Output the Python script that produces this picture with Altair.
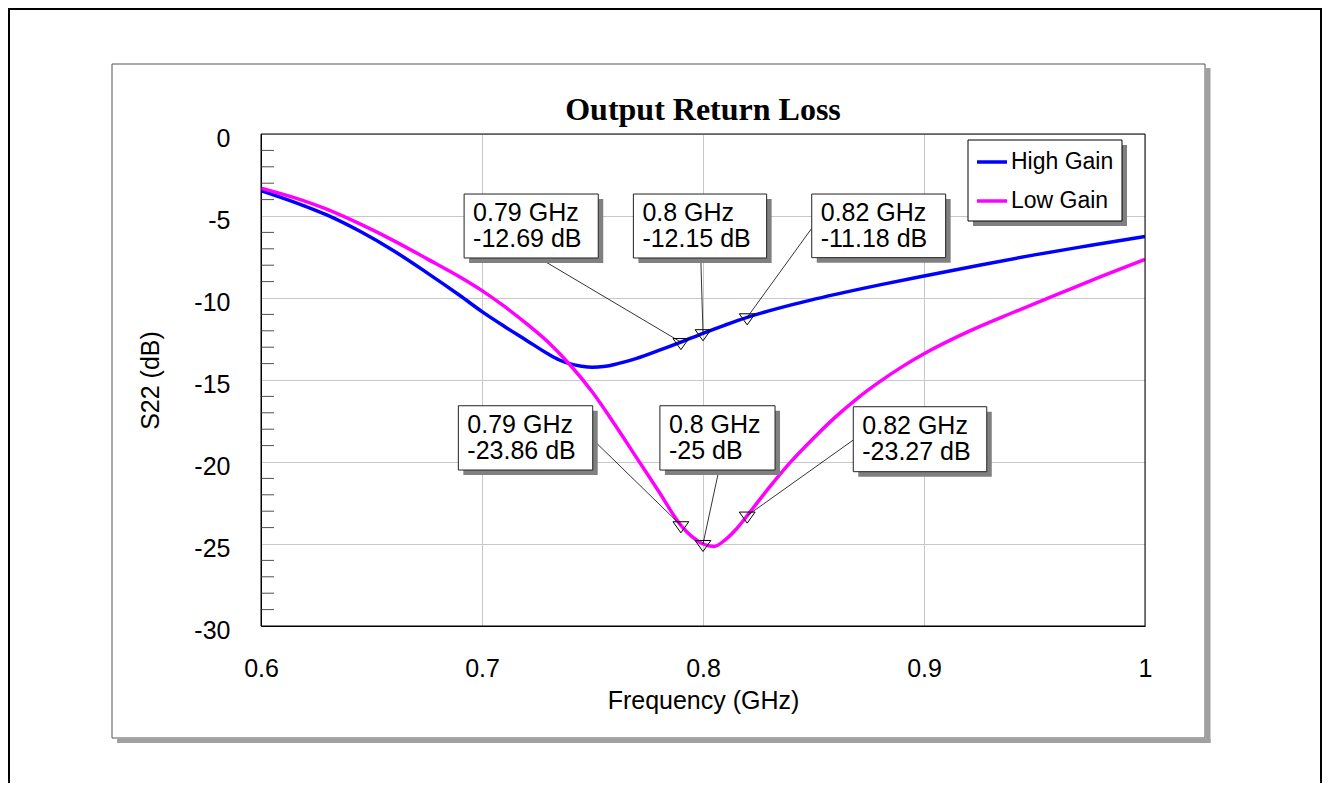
import altair as alt
import pandas as pd

# ---------------- data ----------------
series = ["High Gain", "Low Gain"]
colors = ["#0000ff", "#ff00ff"]

freq_high = [0.600, 0.615, 0.630, 0.645, 0.660, 0.675, 0.690, 0.700, 0.710, 0.720,
             0.730, 0.735, 0.740, 0.745, 0.750, 0.755, 0.760, 0.765, 0.770, 0.780,
             0.790, 0.800, 0.810, 0.820, 0.840, 0.860, 0.880, 0.900, 0.925, 0.950,
             0.975, 1.000]
s22_high = [-3.45, -4.15, -4.95, -5.95, -7.12, -8.45, -9.85, -10.83, -11.72, -12.57,
            -13.42, -13.78, -14.02, -14.16, -14.22, -14.18, -14.05, -13.88, -13.68, -13.20,
            -12.69, -12.15, -11.65, -11.18, -10.42, -9.78, -9.20, -8.66, -8.00, -7.37,
            -6.80, -6.25]

freq_low = [0.600, 0.615, 0.630, 0.645, 0.660, 0.675, 0.690, 0.700, 0.710, 0.720,
            0.730, 0.740, 0.750, 0.760, 0.770, 0.780, 0.790, 0.795, 0.800, 0.805,
            0.810, 0.815, 0.820, 0.825, 0.830, 0.840, 0.850, 0.860, 0.870, 0.880,
            0.890, 0.900, 0.920, 0.940, 0.960, 0.980, 1.000]
s22_low = [-3.30, -3.88, -4.60, -5.50, -6.50, -7.60, -8.72, -9.55, -10.50, -11.55,
           -12.70, -14.10, -15.75, -17.70, -19.75, -21.80, -23.86, -24.55, -25.00, -25.15,
           -24.75, -24.10, -23.27, -22.40, -21.55, -19.95, -18.55, -17.25, -16.10, -15.10,
           -14.20, -13.40, -12.05, -10.90, -9.80, -8.70, -7.65]

marker_freq = [0.79, 0.80, 0.82, 0.79, 0.80, 0.82]
marker_db = [-12.69, -12.15, -11.18, -23.86, -25.00, -23.27]

x_ticks = [0.6, 0.7, 0.8, 0.9, 1.0]
y_ticks = [0, -5, -10, -15, -20, -25, -30]
y_minor = [-1, -2, -3, -4, -6, -7, -8, -9, -11, -12, -13, -14, -16, -17, -18, -19,
           -21, -22, -23, -24, -26, -27, -28, -29]

# annotation box placement (data units)
box_x0 = [0.6919, 0.7685, 0.8492, 0.6893, 0.7805, 0.8680]
box_x1 = [0.7526, 0.8288, 0.9098, 0.7501, 0.8326, 0.9284]
box_ytop = [-3.66, -3.66, -3.66, -16.57, -16.57, -16.63]
box_ybot = [-7.56, -7.56, -7.54, -20.49, -20.49, -20.59]
lead_x = [0.7258, 0.7990, 0.8492, 0.7519, 0.8072, 0.8680]
lead_y = [-7.56, -7.56, -5.75, -18.86, -20.49, -18.66]

chart_title = "Output Return Loss"
SANS = "Liberation Sans, Arial, sans-serif"
SERIF = "Liberation Serif, Times New Roman, serif"
X_TITLE = "Frequency (GHz)"
Y_TITLE = "S22 (dB)"

curves = pd.DataFrame({
    "freq": freq_high + freq_low,
    "s22": s22_high + s22_low,
    "series": [series[0]] * len(freq_high) + [series[1]] * len(freq_low),
})
ann = pd.DataFrame({
    "freq": marker_freq, "db": marker_db,
    "x0": box_x0, "x1": box_x1, "yt": box_ytop, "yb": box_ybot,
    "lx": lead_x, "ly": lead_y,
    "line1": [f"{f:g} GHz" for f in marker_freq],
    "line2": [f"{d:g} dB" for d in marker_db],
})
minor = pd.DataFrame({"tick": y_minor})

xscale = alt.Scale(domain=[0.6, 1.0], nice=False, zero=False)
yscale = alt.Scale(domain=[-30, 0], nice=False, zero=False)

xaxis = alt.Axis(values=x_ticks, labelExpr="'' + datum.value", grid=True, gridColor="#c8c8c8",
                 gridWidth=1, ticks=False, tickSize=0, domain=True, domainColor="black",
                 labelFont=SANS, labelFontSize=25, labelColor="black", labelPadding=42,
                 labelBaseline="middle", labelFlush=False, labelOverlap=False,
                 titleFont=SANS, titleFontSize=25, titleFontWeight="normal", titleColor="black",
                 titleX=442, titleY=74, titleAlign="center", titleBaseline="middle")
yaxis = alt.Axis(values=y_ticks, labelExpr="'' + datum.value", grid=True, gridColor="#c8c8c8",
                 gridWidth=1, ticks=False, tickSize=0, domain=True, domainColor="black",
                 labelFont=SANS, labelFontSize=25, labelColor="black", labelPadding=31,
                 labelBaseline="middle", labelOffset=4, labelFlush=False, labelOverlap=False,
                 titleFont=SANS, titleFontSize=25, titleFontWeight="normal", titleColor="black",
                 titleX=-111, titleY=246, titleAngle=270, titleAlign="center",
                 titleBaseline="middle")


def X(field):
    return alt.X(field, type="quantitative", scale=xscale, axis=xaxis, title=X_TITLE)


def Y(field):
    return alt.Y(field, type="quantitative", scale=yscale, axis=yaxis, title=Y_TITLE)


one = alt.Data(values=[{"k": 1}])

outer = alt.Chart(one).mark_rect(fill="white", fillOpacity=0, stroke="black", strokeWidth=2).encode(
    x=alt.value(-252), x2=alt.value(1060), y=alt.value(-125), y2=alt.value(720))
panel = alt.Chart(one).mark_rect(fill="white", fillOpacity=0, stroke="#555555", strokeWidth=1).encode(
    x=alt.value(-149), x2=alt.value(944), y=alt.value(-70), y2=alt.value(604))
shadow_r = alt.Chart(one).mark_rect(fill="#a0a0a0").encode(
    x=alt.value(944.5), x2=alt.value(949.5), y=alt.value(-66), y2=alt.value(609))
shadow_b = alt.Chart(one).mark_rect(fill="#a0a0a0").encode(
    x=alt.value(-144), x2=alt.value(949.5), y=alt.value(604.5), y2=alt.value(609))

title = alt.Chart(one).mark_text(text=chart_title, font=SERIF, fontSize=32, fontWeight="bold",
                                 color="black", align="center", baseline="alphabetic").encode(
    x=alt.value(442), y=alt.value(-14))

ticks = alt.Chart(minor).mark_rule(color="#505050", strokeWidth=1).encode(
    x=alt.value(0), x2=alt.value(13), y=Y("tick"))

lines = alt.Chart(curves).mark_line(strokeWidth=3.5, clip=True, interpolate="monotone").encode(
    x=X("freq"), y=Y("s22"),
    color=alt.Color("series:N", scale=alt.Scale(domain=series, range=colors),
                    legend=alt.Legend(title=None, orient="none", legendX=707, legendY=6,
                                      direction="vertical", padding=5, symbolOffset=2,
                                      symbolType="stroke", symbolSize=900,
                                      symbolStrokeWidth=3.5, labelFont=SANS,
                                      labelFontSize=23, labelColor="black",
                                      labelOffset=2, rowPadding=10)),
    order=alt.Order("freq:Q"))

leaders = alt.Chart(ann).mark_rule(color="black", strokeWidth=0.8).encode(
    x=X("lx"), y=Y("ly"), x2="freq:Q", y2="db:Q")

markers = alt.Chart(ann).mark_point(shape="M-1,-0.45L1,-0.45L0,0.95Z", size=250, filled=False,
                                    color="black", strokeWidth=1, opacity=1).encode(
    x=X("freq"), y=Y("db"))

box_shadow = alt.Chart(ann).mark_rect(fill="#808080", xOffset=5, x2Offset=5, yOffset=5,
                                      y2Offset=5).encode(
    x=X("x0"), x2="x1:Q", y=Y("yt"), y2="yb:Q")
boxes = alt.Chart(ann).mark_rect(fill="white", stroke="#222222", strokeWidth=1).encode(
    x=X("x0"), x2="x1:Q", y=Y("yt"), y2="yb:Q")
text1 = alt.Chart(ann).mark_text(align="left", baseline="middle", dx=9, dy=19, font=SANS,
                                 fontSize=25, color="black").encode(
    x=X("x0"), y=Y("yt"), text="line1:N")
text2 = alt.Chart(ann).mark_text(align="left", baseline="middle", dx=9, dy=45, font=SANS,
                                 fontSize=25, color="black").encode(
    x=X("x0"), y=Y("yt"), text="line2:N")

legend_shadow = alt.Chart(one).mark_rect(fill="#808080").encode(
    x=alt.value(712), x2=alt.value(866), y=alt.value(11), y2=alt.value(92))
legend_box = alt.Chart(one).mark_rect(fill="white", stroke="black", strokeWidth=1).encode(
    x=alt.value(707), x2=alt.value(861), y=alt.value(6), y2=alt.value(87))

frame = alt.Chart(one).mark_rect(fill="white", fillOpacity=0, stroke="black", strokeWidth=1).encode(
    x=alt.value(0), x2=alt.value(884), y=alt.value(0), y2=alt.value(492))

chart = alt.layer(
    outer, panel, shadow_r, shadow_b, title, ticks, lines, leaders, markers,
    box_shadow, boxes, text1, text2, legend_shadow, legend_box, frame
).properties(
    width=884, height=492,
    autosize=alt.AutoSizeParams(type="none"),
    padding={"left": 253, "top": 126, "right": 177, "bottom": 157},
    background="white",
).configure_view(strokeWidth=0)

chart.save("out.html", embed_options={"renderer": "svg", "actions": False})
